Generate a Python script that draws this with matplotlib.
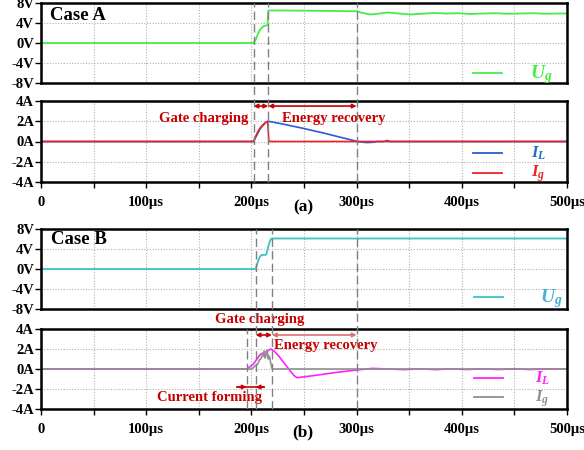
import numpy as np
import matplotlib
matplotlib.use('Agg')
import matplotlib.pyplot as plt
from matplotlib.lines import Line2D
import matplotlib.transforms as mtransforms

plt.rcParams['font.family'] = 'Liberation Serif'
plt.rcParams['font.weight'] = 'bold'
plt.rcParams['mathtext.fontset'] = 'custom'
plt.rcParams['mathtext.it'] = 'Liberation Serif:italic:bold'
plt.rcParams['mathtext.rm'] = 'Liberation Serif:bold'

# ---- case A data (time in us) ----
tA_ug = [0, 202, 204, 206, 208, 210, 212, 214, 215.5, 216, 230, 260, 300, 306, 313, 320, 329,
         340, 351, 362, 373, 385, 397, 408, 420, 432, 444, 456, 468, 480, 492, 500]
ugA = [0, 0, 0.6, 1.7, 2.6, 3.1, 3.4, 3.5, 3.6, 6.5, 6.5, 6.45, 6.35, 6.0, 5.7, 5.85, 6.1,
       5.9, 5.7, 5.85, 6.0, 5.9, 5.95, 5.8, 5.9, 5.95, 5.85, 5.9, 5.95, 5.85, 5.9, 5.9]

tA_il = [0, 202, 205, 208, 211, 214, 216, 230, 250, 270, 290, 300, 305, 310, 315, 320, 326, 329, 332, 340, 500]
ilA = [0, 0, 0.6, 1.2, 1.6, 1.9, 2.0, 1.72, 1.28, 0.8, 0.28, 0.02, -0.06, -0.1, -0.08, 0, 0, 0.1, 0, 0, 0]

tA_ig = [0, 202, 204, 206, 208, 210, 212, 214, 215.5, 216.5, 218, 500]
igA = [0, 0, 0.5, 0.95, 1.3, 1.55, 1.75, 1.9, 2.0, 0.15, 0, 0]

# ---- case B data ----
tB_ug = [0, 204, 205.5, 207, 208.5, 210, 214, 215, 217, 218.5, 219.5, 500]
ugB = [0, 0, 1.0, 2.0, 2.6, 2.8, 2.85, 3.6, 5.2, 6.0, 6.1, 6.1]

tB_il = [0, 195.5, 201.5, 205, 208, 211, 214.5, 218.5, 222, 226, 230, 234, 238, 241, 243.5,
         260, 280, 300, 315, 330, 345, 360, 375, 390, 405, 420, 435, 450, 465, 480, 500]
ilB = [0, 0, 0.45, 0.95, 1.4, 1.6, 1.75, 2.0, 1.75, 1.3, 0.75, 0.2, -0.35, -0.7, -0.87,
       -0.65, -0.35, -0.1, 0.06, 0.0, -0.06, 0.02, -0.06, 0.02, -0.05, 0.02, -0.05, 0.02, -0.05, 0.02, 0]

tB_ig = [0, 200, 202, 204, 206, 207, 208, 209, 210, 211, 212, 213, 214, 215, 216, 217, 218, 219, 219.5, 220.5, 500]
igB = [0, 0, 0.15, 0.35, 0.5, 0.75, 0.95, 1.0, 1.3, 1.25, 1.8, 1.1, 1.4, 1.9, 1.0, 1.3, 0.8, 0.3, 0.05, 0, 0]

xticks = np.arange(0, 501, 50)
xticklabels = ['0', '', '100µs', '', '200µs', '', '300µs', '', '400µs', '', '500µs']

c_green = '#44ee44'
c_blue = '#2a5ad8'
c_red = '#ee2222'
c_teal = '#3cc4c4'
c_mag = '#ff22ff'
c_gray = '#909090'
c_txt = '#c80000'

W, H = 584, 450
fig = plt.figure(figsize=(5.84, 4.5), dpi=100)


def px_axes(top, bottom, left=41, right=567):
    return fig.add_axes([left / W, 1 - bottom / H, (right - left) / W, (bottom - top) / H])


def style(ax, volts, labels):
    ax.set_xlim(0, 500)
    ax.set_xticks(xticks)
    if volts:
        ax.set_ylim(-8, 8)
        ax.set_yticks([-8, -4, 0, 4, 8])
        ax.set_yticklabels(['-8V', '-4V', '0V', '4V', '8V'])
    else:
        ax.set_ylim(-4, 4)
        ax.set_yticks([-4, -2, 0, 2, 4])
        ax.set_yticklabels(['-4A', '-2A', '0A', '2A', '4A'])
    ax.grid(True, color='#b0b0b0', linestyle=(0, (1, 1.5)), lw=0.8)
    ax.tick_params(axis='y', direction='out', length=4, width=1, pad=1, labelsize=10.5)
    if labels:
        ax.set_xticklabels(xticklabels)
        ax.tick_params(axis='x', direction='out', length=4, width=1, pad=6, labelsize=10.5)
    else:
        ax.tick_params(axis='x', length=0, labelbottom=False)
    for s in ax.spines.values():
        s.set_linewidth(1.8)


ax1 = px_axes(3, 83)
ax2 = px_axes(101, 182)
ax3 = px_axes(229, 309)
ax4 = px_axes(329, 409)
style(ax1, True, False)
style(ax2, False, True)
style(ax3, True, False)
style(ax4, False, True)


def vdash(x, ax_top, ax_bot):
    tr = mtransforms.blended_transform_factory(ax_bot.transData, fig.transFigure)
    y0 = ax_bot.get_position().y0
    y1 = ax_top.get_position().y1
    fig.add_artist(Line2D([x, x], [y0, y1], transform=tr, color='#808080',
                          lw=1, linestyle=(0, (6, 3)), zorder=5))


def arrow(ax, x0, x1, y, color):
    ax.annotate('', xy=(x1, y), xytext=(x0, y), annotation_clip=False,
                arrowprops=dict(arrowstyle='<|-|>', color=color, lw=1.2,
                                mutation_scale=6, shrinkA=0, shrinkB=0))


# ---- case A ----
ax1.plot(tA_ug, ugA, color=c_green, lw=1.3)
ax1.plot([410.6, 438.2], [-6, -6], color=c_green, lw=1.3)
ax1.text(465, -6.3, r'$U_g$', color=c_green, fontsize=14, va='center', ha='left')
ax1.text(8.6, 5.5, 'Case A', fontsize=13.5, va='center', ha='left')

ax2.plot(tA_il, ilA, color=c_blue, lw=1.2)
ax2.plot(tA_ig, igA, color=c_red, lw=1.2)
ax2.plot([410.6, 438.2], [-1.1, -1.1], color=c_blue, lw=1.3)
ax2.plot([410.6, 438.2], [-3.1, -3.1], color=c_red, lw=1.3)
ax2.text(466, -1.2, r'$I_L$', color='#1c6fc8', fontsize=12, va='center', ha='left')
ax2.text(466, -3.2, r'$I_g$', color=c_red, fontsize=12, va='center', ha='left')
ax2.text(197, 2.3, 'Gate charging', color=c_txt, fontsize=10.5, ha='right', va='center')
ax2.text(278, 2.3, 'Energy recovery', color=c_txt, fontsize=10.5, ha='center', va='center')
arrow(ax2, 202, 216, 3.5, c_txt)
arrow(ax2, 216, 300, 3.5, c_txt)
for x in [202, 216, 300]:
    vdash(x, ax1, ax2)

# ---- case B ----
ax3.plot(tB_ug, ugB, color=c_teal, lw=1.3)
ax3.plot([411.6, 439], [-5.6, -5.6], color=c_teal, lw=1.3)
ax3.text(474, -5.9, r'$U_g$', color='#4aaed0', fontsize=14, va='center', ha='left')
ax3.text(9.5, 5.9, 'Case B', fontsize=13.5, va='center', ha='left')

ax4.plot(tB_il, ilB, color=c_mag, lw=1.2)
ax4.plot(tB_ig, igB, color=c_gray, lw=1.2)
ax4.plot([411.6, 439], [-0.9, -0.9], color=c_mag, lw=1.3)
ax4.plot([411.6, 439], [-2.8, -2.8], color=c_gray, lw=1.3)
ax4.text(470, -0.95, r'$I_L$', color=c_mag, fontsize=12, va='center', ha='left')
ax4.text(470, -2.95, r'$I_g$', color=c_gray, fontsize=12, va='center', ha='left')
ax4.text(208, 4.9, 'Gate charging', color=c_txt, fontsize=10.5, ha='center', va='center')
ax4.text(270.5, 2.3, 'Energy recovery', color=c_txt, fontsize=10.5, ha='center', va='center')
ax4.text(160, -2.8, 'Current forming', color=c_txt, fontsize=10.5, ha='center', va='center')
arrow(ax4, 204, 219.5, 3.4, c_txt)
arrow(ax4, 219.5, 300, 3.4, '#e07070')
ax4.plot([186, 212], [-1.8, -1.8], color=c_txt, lw=1.2)
ax4.annotate('', xy=(195.5, -1.8), xytext=(187, -1.8),
             arrowprops=dict(arrowstyle='-|>', color=c_txt, lw=1.2, mutation_scale=6, shrinkA=0, shrinkB=0))
ax4.annotate('', xy=(204, -1.8), xytext=(212, -1.8),
             arrowprops=dict(arrowstyle='-|>', color=c_txt, lw=1.2, mutation_scale=6, shrinkA=0, shrinkB=0))
ax4.axvline(195.5, color='#808080', lw=1, linestyle=(0, (6, 3)), zorder=5)
for x in [204, 219.5, 300]:
    vdash(x, ax3, ax4)

fig.text(303 / W, 1 - 207 / H, '(a)', fontsize=12.5, ha='center', va='center')
fig.text(303 / W, 1 - 432 / H, '(b)', fontsize=12.5, ha='center', va='center')

fig.savefig('out.png', dpi=100)
